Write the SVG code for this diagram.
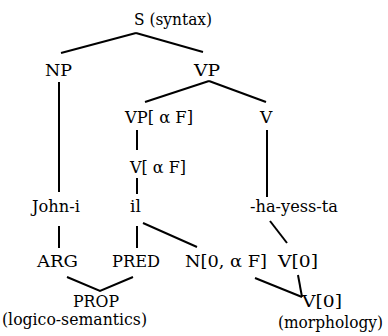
<svg xmlns="http://www.w3.org/2000/svg" width="388" height="336" viewBox="0 0 388 336">
<style>
text{font-family:"DejaVu Serif","Liberation Serif",serif;font-size:17px;fill:#000}
.sm{font-size:16px}
.c line,.c polyline{stroke:#000;stroke-width:2;fill:none;stroke-linecap:butt}
</style>
<rect width="388" height="336" fill="#fff"/>
<g class="c" id="connectors">
<line x1="136" y1="33" x2="61" y2="53"/>
<line x1="136" y1="33" x2="203" y2="52"/>
<line x1="59" y1="82" x2="59" y2="192"/>
<line x1="209" y1="81" x2="145" y2="102"/>
<line x1="209" y1="81" x2="266" y2="102"/>
<line x1="137" y1="130" x2="137" y2="150"/>
<line x1="137" y1="178" x2="137" y2="194"/>
<line x1="267" y1="130" x2="267" y2="197"/>
<line x1="59" y1="226" x2="59" y2="248"/>
<line x1="137" y1="226" x2="137" y2="248"/>
<line x1="143" y1="223" x2="197" y2="247"/>
<line x1="270" y1="221" x2="287" y2="243"/>
<polyline points="67,277 100,291 133,277"/>
<line x1="255" y1="278" x2="302" y2="297"/>
<line x1="298" y1="275" x2="302" y2="297"/>
</g>
<g id="S"><text x="134" y="25" textLength="78" lengthAdjust="spacingAndGlyphs">S (syntax)</text></g>
<g id="NP"><text x="45" y="76" textLength="27" lengthAdjust="spacingAndGlyphs">NP</text></g>
<g id="VP"><text x="194" y="76" textLength="26" lengthAdjust="spacingAndGlyphs">VP</text></g>
<g id="VPaF"><text x="125" y="123" textLength="68" lengthAdjust="spacingAndGlyphs">VP[ α F]</text></g>
<g id="V"><text x="260" y="123">V</text></g>
<g id="VaF"><text x="130" y="173" textLength="56" lengthAdjust="spacingAndGlyphs">V[ α F]</text></g>
<g id="John"><text x="32" y="212" textLength="48" lengthAdjust="spacingAndGlyphs">John-i</text></g>
<g id="il"><text x="130" y="212">il</text></g>
<g id="hayessta"><text x="250" y="212" textLength="88" lengthAdjust="spacingAndGlyphs">-ha-yess-ta</text></g>
<g id="ARG"><text x="37" y="267" textLength="41" lengthAdjust="spacingAndGlyphs">ARG</text></g>
<g id="PRED"><text x="112" y="267" textLength="48" lengthAdjust="spacingAndGlyphs">PRED</text></g>
<g id="N0aF"><text x="185" y="267" textLength="82" lengthAdjust="spacingAndGlyphs">N[0, α F]</text></g>
<g id="V0"><text x="278" y="267" textLength="40" lengthAdjust="spacingAndGlyphs">V[0]</text></g>
<g id="PROP"><text x="73" y="307" textLength="46" lengthAdjust="spacingAndGlyphs">PROP</text><text class="sm" x="2" y="325" textLength="145" lengthAdjust="spacingAndGlyphs">(logico-semantics)</text></g>
<g id="V0m"><text x="302" y="307" textLength="40" lengthAdjust="spacingAndGlyphs">V[0]</text><text class="sm" x="278" y="328" textLength="105" lengthAdjust="spacingAndGlyphs">(morphology)</text></g>
</svg>
